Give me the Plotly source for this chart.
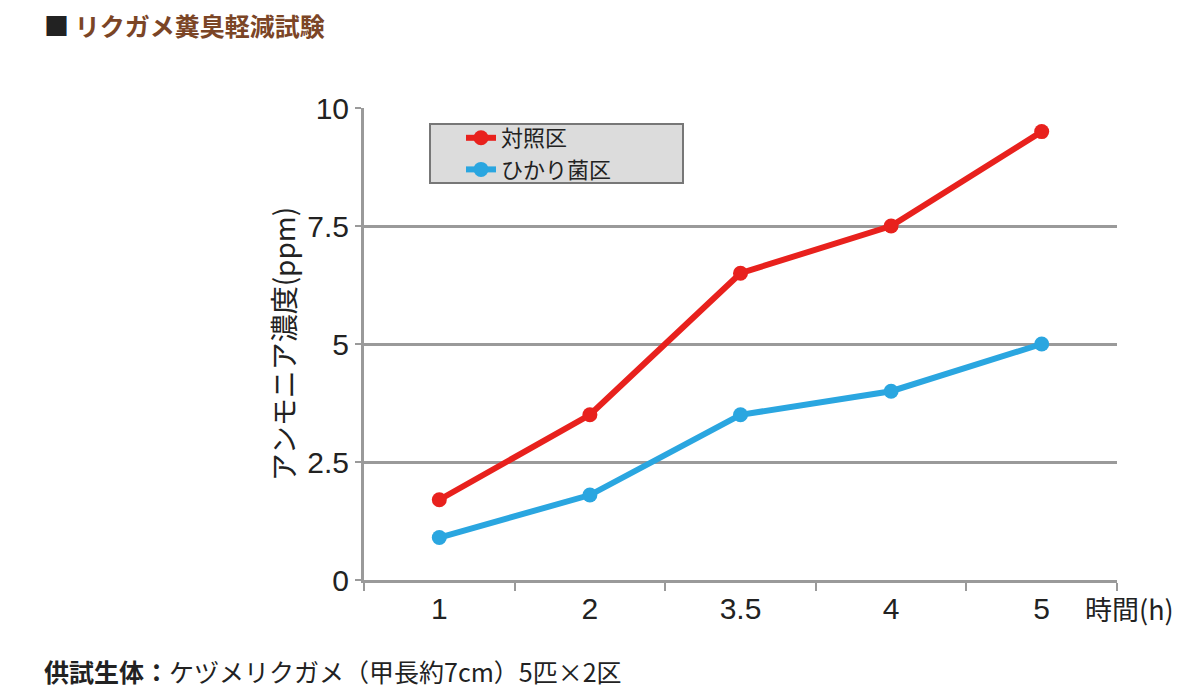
import plotly.graph_objects as go

categories = ["1", "2", "3.5", "4", "5"]
control = [1.7, 3.5, 6.5, 7.5, 9.5]
hikari = [0.9, 1.8, 3.5, 4.0, 5.0]
y_ticks = [0, 2.5, 5, 7.5, 10]
y_labels = ["0", "2.5", "5", "7.5", "10"]

RED = "#e8211d"
BLUE = "#2aa6e0"
GRID = "#9a9a9a"
FONT = "Liberation Sans, Arial, Noto Sans CJK JP, sans-serif"
JP = "Noto Sans CJK JP, sans-serif"

# plot-area geometry in pixels (for paper-coordinate conversions)
L, R, T, B = 364, 1117, 108, 580
PW, PH = R - L, B - T

def px(x):
    return (x - L) / PW

def py(y):
    return (B - y) / PH

fig = go.Figure()
fig.add_trace(go.Scatter(x=categories, y=control, mode="lines+markers", name="対照区",
                         line=dict(color=RED, width=6), marker=dict(color=RED, size=15)))
fig.add_trace(go.Scatter(x=categories, y=hikari, mode="lines+markers", name="ひかり菌区",
                         line=dict(color=BLUE, width=6), marker=dict(color=BLUE, size=15)))

fig.update_layout(
    width=1198, height=691,
    margin=dict(l=L, r=1198 - R, t=T, b=691 - B),
    paper_bgcolor="white", plot_bgcolor="white",
    showlegend=True,
    legend=dict(x=px(461), y=py(117), xanchor="left", yanchor="top",
                bgcolor="rgba(0,0,0,0)", borderwidth=0,
                font=dict(family=JP, size=22, color="#222"),
                itemwidth=30, tracegroupgap=0),
    xaxis=dict(type="category", tickson="boundaries", ticks="outside", ticklen=8,
               tickwidth=2, tickcolor=GRID, showline=True, linecolor=GRID, linewidth=3,
               showgrid=False, tickfont=dict(family=FONT, size=30, color="#222"),
               range=[-0.5, 4.5]),
    yaxis=dict(range=[0, 10], tickvals=y_ticks, ticktext=y_labels, ticks="outside",
               ticklen=6, tickwidth=2, tickcolor=GRID, showline=True, linecolor=GRID,
               linewidth=3, showgrid=True, gridcolor=GRID, gridwidth=3,
               zeroline=False, tickfont=dict(family=FONT, size=30, color="#222"),
               title=dict(text="アンモニア濃度(ppm)", font=dict(family=JP, size=28, color="#222"),
                          standoff=4)),
)

# legend box
fig.add_shape(type="rect", xref="paper", yref="paper",
              x0=px(430), x1=px(683), y0=py(183), y1=py(124),
              fillcolor="#dcdcdc", line=dict(color="#777777", width=2), layer="below")

fig.add_annotation(xref="paper", yref="paper", x=px(1083), y=py(608), xanchor="left", yanchor="middle",
                   showarrow=False,
                   text="時間(h)", font=dict(family=JP, size=27, color="#222"))

fig.add_annotation(xref="paper", yref="paper", x=px(42), y=py(25),
                   xanchor="left", yanchor="middle", showarrow=False,
                   text="<span style='color:#222'>■</span> <b>リクガメ糞臭軽減試験</b>",
                   font=dict(family=JP, size=25, color="#7b4526"))

fig.add_annotation(xref="paper", yref="paper", x=px(42), y=py(671),
                   xanchor="left", yanchor="middle", showarrow=False,
                   text="<b>供試生体：</b>ケヅメリクガメ（甲長約7cm）5匹×2区",
                   font=dict(family=JP, size=25, color="#222"))

fig.write_html("out.html")
